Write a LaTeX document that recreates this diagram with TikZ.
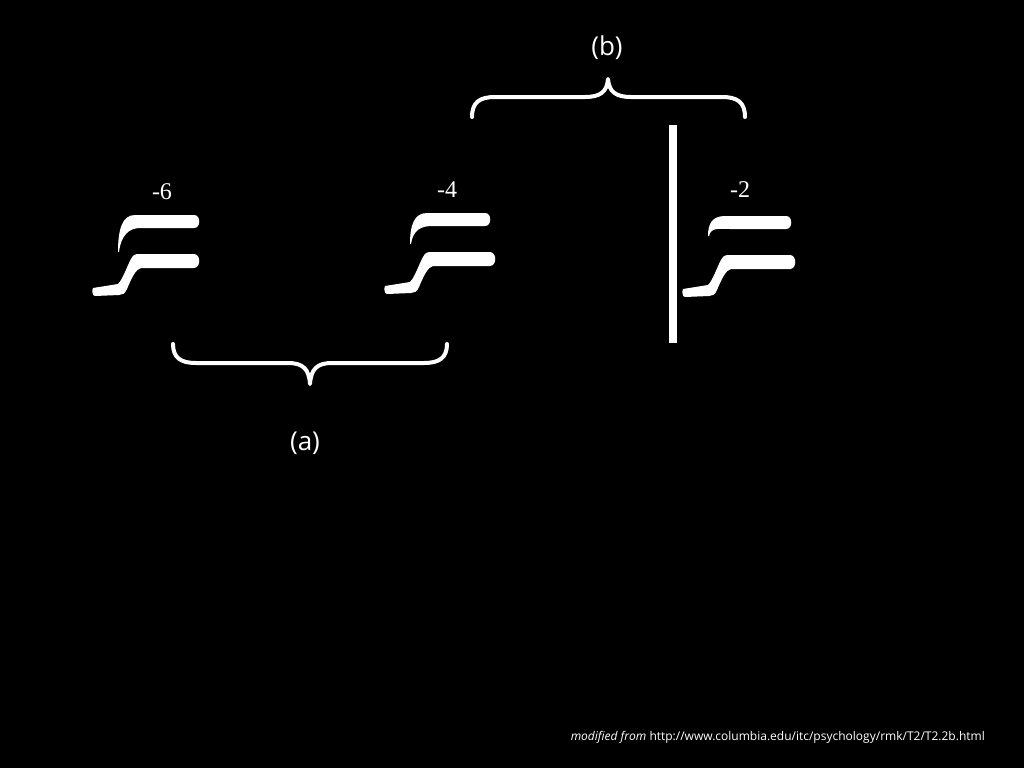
\documentclass[tikz,border=0pt]{standalone}
\usepackage{fontspec}
\setmainfont{Open Sans}
\newfontfamily\numfont{Liberation Serif}
\newcommand\glyphF[5]{%
\begin{scope}[shift={(#1,#2)}]
\fill[white] (25,#3) .. controls (25,{#3*0.4}) and (29,0) .. (42,0) -- (#4,0) .. controls ({#4+7},0) and ({#4+7},13) .. (#4,13) -- (47,13) .. controls (36,13) and (28,{#3*0.55}) .. (26,#3) -- cycle;
\fill[white] (0,73) -- (25,69) .. controls (30,64) and (34,51) .. (38,44) .. controls (40,40) and (42,39) .. (46,39) -- (#5,39) .. controls ({#5+7},39) and ({#5+7},53) .. (#5,53) -- (48,53) .. controls (43,54) and (39,62) .. (34,74) .. controls (32,79) and (29,80) .. (26,80) -- (2,81) .. controls (-1,81) and (-1,75) .. (0,73) -- cycle;
\end{scope}}
\begin{document}
\begin{tikzpicture}[x=1pt,y=-1pt,
  brace/.style={draw=white,line width=4pt,line cap=round,line join=round},
  lbl/.style={text=white,font=\fontsize{26}{30}\selectfont,inner sep=0pt},
  num/.style={text=white,font=\numfont\fontsize{24}{28}\selectfont,inner sep=0pt},
  credit/.style={text=white,font=\fontsize{12}{14}\selectfont,inner sep=0pt,anchor=east}]
\fill[black] (0,0) rectangle (1024,768);
\useasboundingbox (0,0) rectangle (1024,768);
% glyphs
\glyphF{93}{215}{37}{101}{101}
\glyphF{385}{213}{31}{100}{105}
\glyphF{683}{216}{20}{103}{107}
% numbers
\node[num] (n6) at (162,192) {-6};
\node[num] (n4) at (447,190) {-4};
\node[num] (n2) at (740,190) {-2};
% vertical bar
\fill[white] (668.5,125) rectangle (676.5,343);
% brace (b)
\draw[brace] (472,117) .. controls (472,102) and (480,97) .. (495,97) -- (585,97) .. controls (600,97) and (607,92) .. (608,79) .. controls (609,92) and (616,97) .. (631,97) -- (722,97) .. controls (737,97) and (745,102) .. (745,117);
\node[lbl] (lb) at (607,48) {(b)};
% brace (a)
\draw[brace] (173,344) .. controls (173,358) and (181,363) .. (196,363) -- (288,363) .. controls (303,363) and (309,369) .. (310,384) .. controls (311,369) and (317,363) .. (332,363) -- (424,363) .. controls (439,363) and (447,358) .. (447,344);
\node[lbl] (la) at (305,443) {(a)};
% credit
\node[credit] (cr) at (985,737) {{\itshape modified from} http://www.columbia.edu/itc/psychology/rmk/T2/T2.2b.html};
\end{tikzpicture}
\end{document}
